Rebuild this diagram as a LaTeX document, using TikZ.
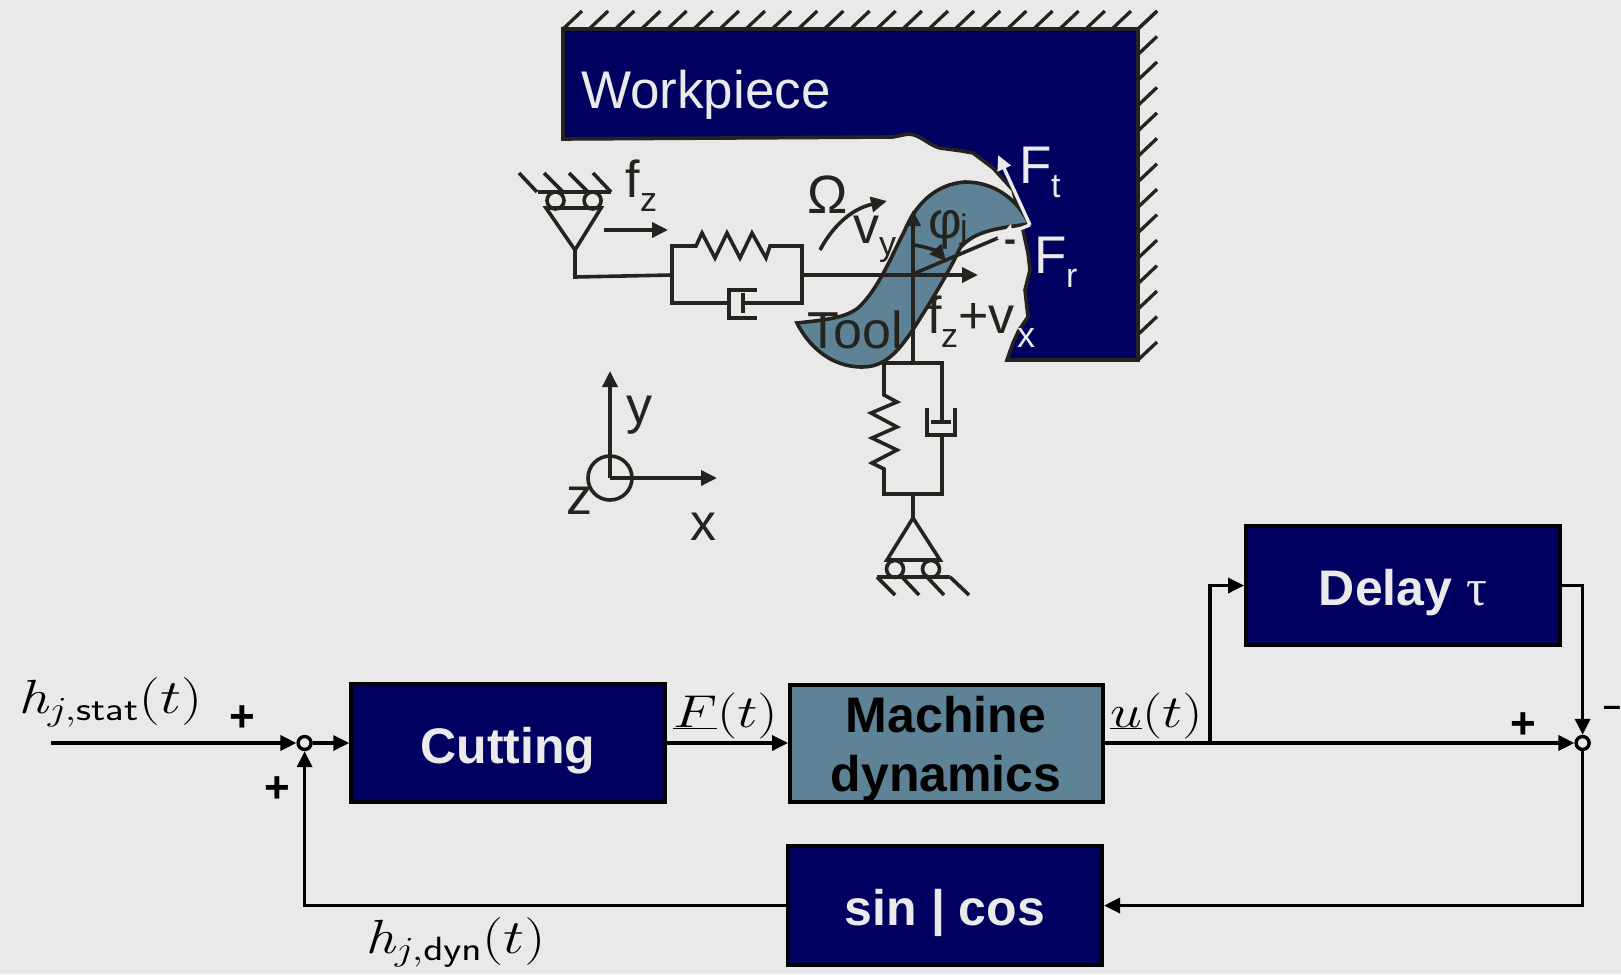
\RequirePackage{fix-cm}
\documentclass[tikz,border=0pt]{standalone}
\usepackage{graphicx}
\usepackage[no-math]{fontspec}
\setmainfont{Liberation Sans}
\newfontfamily\taufont{Liberation Serif}
\usetikzlibrary{arrows.meta,calc}
\definecolor{bgc}{HTML}{E9E9E9}
\definecolor{navy}{HTML}{000060}
\definecolor{toolc}{HTML}{5F8396}
\definecolor{ink}{HTML}{25231E}
\definecolor{wht}{HTML}{EAEAEA}
\newcommand{\fsz}[1]{\fontsize{#1}{#1}\selectfont}
\newcommand{\widemath}[1]{\scalebox{1.24}[1]{#1}}
\tikzset{
  mech/.style={draw=ink,line width=3.6pt,line join=miter},
  hatchl/.style={draw=ink,line width=3.3pt},
  tipa/.style={-{Triangle[length=16pt,width=15pt]}},
  lbl/.style={inner sep=0pt,anchor=base west},
  blockn/.style={draw=black,line width=4pt,fill=navy,text=wht,inner sep=0pt,font=\fsz{50}\bfseries,text height=40pt,text depth=0pt},
  blockt/.style={draw=black,line width=4pt,fill=toolc,text=black,inner sep=0pt},
  wire/.style={draw=black,line width=3.4pt},
  wirea/.style={wire,-{Triangle[length=16pt,width=15pt]}},
  sumround/.style={draw=black,line width=3.4pt,fill=bgc,circle,inner sep=0pt,minimum size=13pt},
  mathl/.style={inner sep=0pt,anchor=base west,text=black},
}
\begin{document}
\begin{tikzpicture}[x=1pt,y=-1pt]
\useasboundingbox (0,0) rectangle (1621,974);
\fill[bgc] (0,0) rectangle (1621,974);
% workpiece
\path[mech,fill=navy] (563,29) -- (1138,29) -- (1138,360) -- (1007,360)
  -- (1013,343) -- (1019,330) -- (1028,317) -- (1025,290) -- (1030,270) -- (1028,253) -- (1023,230)
  -- (1013,190) -- (993,168) -- (973,153) -- (962,151) -- (940,148)
  .. controls (928,145) and (920,134) .. (908,134) -- (893,137) -- (563,139) -- cycle;
\foreach \i in {0,...,22} \draw[hatchl] ({563+\i*26.14},29) -- ++(19,-18);
\foreach \i in {0,...,13} \draw[hatchl] (1138,{360-\i*25.46}) -- ++(19,-18);
% tool
\path[mech,fill=toolc] (797,323) .. controls (825,320) and (845,318) .. (858,308)
  .. controls (878,290) and (892,255) .. (904,232)
  .. controls (915,205) and (935,184) .. (965,182)
  .. controls (995,182) and (1018,200) .. (1029,224)
  .. controls (1000,228) and (975,230) .. (960,248)
  .. controls (950,270) and (932,300) .. (914,328)
  .. controls (898,352) and (885,367) .. (862,367)
  .. controls (830,367) and (808,345) .. (797,323) -- cycle;
% horizontal suspension
\draw[mech] (519,173) -- (537,192);
\draw[mech] (544,173) -- (563,192);
\draw[mech] (569,173) -- (588,192);
\draw[mech] (593,173) -- (611,192);
\draw[mech] (538,192) -- (611,192);
\draw[mech] (555.5,200.5) circle (8.5);
\draw[mech] (592.6,200.5) circle (8.5);
\draw[mech] (546,208) -- (601,208) -- (575,250) -- cycle;
\draw[mech] (575,250) -- (575,277) -- (672,275);
\draw[mech,tipa] (604,230) -- (668,230);
\draw[mech] (672,275) -- (672,303) -- (729,303);
\draw[mech] (672,275) -- (672,246) -- (696,246) -- (702,233) -- (715,258) -- (727,233) -- (740,258) -- (752,233) -- (766,258) -- (770,246) -- (802,246) -- (802,303) -- (743,303);
\draw[mech] (757,290) -- (729,290) -- (729,318) -- (757,318);
\draw[mech] (743,293) -- (743,313);
\draw[mech,tipa] (802,275) -- (978,275);
% tool axes
\draw[mech,tipa] (913,363) -- (913,210);
\draw[mech] (913,274) -- (998,238);
\draw[draw=wht,line width=3.4pt,-{Triangle[length=15pt,width=14pt]}] (1030,225) -- (998,155);
\draw[draw=wht,line width=3.4pt] (1030,225) -- (1003,235);
\fill[wht] (1011,224) -- (997,239) -- (1013,238) -- cycle;
\draw[mech,tipa] (820,250) .. controls (835,222) and (855,208) .. (887,201);
\draw[mech,tipa] (913,245) .. controls (925,246) and (938,252) .. (946,261);
% vertical suspension
\draw[mech] (913,363) -- (884,363) -- (884,395) -- (897,402) -- (871,413) -- (897,427) -- (872,438) -- (897,450) -- (872,463) -- (884,469) -- (884,494) -- (942,494) -- (942,435);
\draw[mech] (913,363) -- (942,363) -- (942,422);
\draw[mech] (931,422) -- (951,422);
\draw[mech] (927,408) -- (927,435) -- (955,435) -- (955,408);
\draw[mech] (913,494) -- (913,518);
\draw[mech] (913,518) -- (887,560) -- (940,560) -- cycle;
\draw[mech] (895,569) circle (8.5);
\draw[mech] (931,569) circle (8.5);
\draw[mech] (877,577) -- (950,577);
\draw[mech] (877,577) -- (895,595);
\draw[mech] (902,577) -- (919,595);
\draw[mech] (927,577) -- (944,595);
\draw[mech] (950,577) -- (969,595);
% coordinate axes
\draw[mech,tipa] (610,478) -- (610,371);
\draw[mech,tipa] (610,478) -- (717,478);
\draw[mech] (610,478) circle (22);
% mechanical labels
\node[lbl,text=wht,font=\fsz{53}] (wp) at (581,108) {Workpiece};
\node[lbl,text=ink,font=\fsz{52}] (tl) at (807,348) {Tool};
\node[lbl,text=ink,font=\fsz{52}] (fz1) at (625,197) {f};
\node[lbl,text=ink,font=\fsz{34}] (fz2) at (640,211) {z};
\node[lbl,text=ink,font=\fsz{54}] (om) at (807,213) {Ω};
\node[lbl,text=ink,font=\fsz{52}] (vy1) at (853,243) {v};
\node[lbl,text=ink,font=\fsz{34}] (vy2) at (879,255) {y};
\node[lbl,text=ink,font=\fsz{52}] (ph1) at (928,238) {φ};
\node[lbl,text=ink,font=\fsz{34}] (ph2) at (960,238) {j};
\node[lbl,text=ink,font=\fsz{52}] (fv1) at (927,333) {f};
\node[lbl,text=ink,font=\fsz{34}] (fv2) at (941,347) {z};
\node[lbl,text=ink,font=\fsz{52}] (fv3) at (958,333) {+v};
\node[lbl,text=wht,font=\fsz{36}] (fv4) at (1017,347) {x};
\node[lbl,text=wht,font=\fsz{53}] (ft1) at (1019,183) {F};
\node[lbl,text=wht,font=\fsz{34}] (ft2) at (1051,197) {t};
\node[lbl,text=wht,font=\fsz{53}] (fr1) at (1034,273) {F};
\node[lbl,text=wht,font=\fsz{34}] (fr2) at (1066,287) {r};
\node[lbl,text=ink,font=\fsz{36}\bfseries] (dash) at (1004,251) {-};
\node[lbl,text=ink,font=\fsz{52}] (ya) at (626,423) {y};
\node[lbl,text=ink,font=\fsz{52}] (xa) at (690,540) {x};
\node[lbl,text=ink,font=\fsz{52}] (za) at (566,514) {z};
% block diagram
\node[blockn,minimum width=313.5pt,minimum height=118pt] (cut) at (508,743) {Cutting};
\node[blockt,minimum width=313pt,minimum height=117pt] (mach) at (946.5,743) {};
\node[inner sep=0pt,font=\fsz{50}\bfseries,align=center,text=black] (machl) at (946,749) {Machine\\[9pt]dynamics};
\node[blockn,minimum width=314pt,minimum height=119pt] (del) at (1403,585.5) {Delay {\taufont\mdseries\fsz{52}τ}};
\node[blockn,minimum width=314pt,minimum height=119pt] (sc) at (945,905.5) {sin | cos};
\node[sumround] (s1) at (304.6,743) {};
\node[sumround] (s2) at (1582.6,743) {};
\coordinate (st) at (51,743);
\coordinate (br) at (1210,743);
\draw[wirea] (st) -- (s1);
\draw[wirea] (s1) -- (cut);
\draw[wirea] (cut) -- (mach);
\draw[wirea] (mach) -- (s2);
\draw[wirea] (br) |- (del.west);
\draw[wirea] (del.east) -| (s2);
\draw[wirea] (s2) |- (sc.east);
\draw[wirea] (sc.west) -| (s1);
\node[mathl,font=\fsz{48}] (h1) at (18,713) {\widemath{$\mathit{h}_{j,\mathsf{stat}}(t)$}};
\node[mathl,font=\fsz{48}] (h2) at (365,953) {\widemath{$\mathit{h}_{j,\mathsf{dyn}}(t)$}};
\node[mathl,font=\fsz{46}] (ful) at (673,727) {\widemath{$\underline{F}(t)$}};
\node[mathl,font=\fsz{46}] (uul) at (1110,727) {\widemath{$\underline{u}(t)$}};
\node[mathl,font=\fsz{44}\bfseries] (p1) at (229,731) {+};
\node[mathl,font=\fsz{44}\bfseries] (p2) at (264,802) {+};
\node[mathl,font=\fsz{44}\bfseries] (p3) at (1510,738) {+};
\node[mathl,font=\fsz{32}\bfseries] (m1) at (1603,716) {–};
\end{tikzpicture}
\end{document}
